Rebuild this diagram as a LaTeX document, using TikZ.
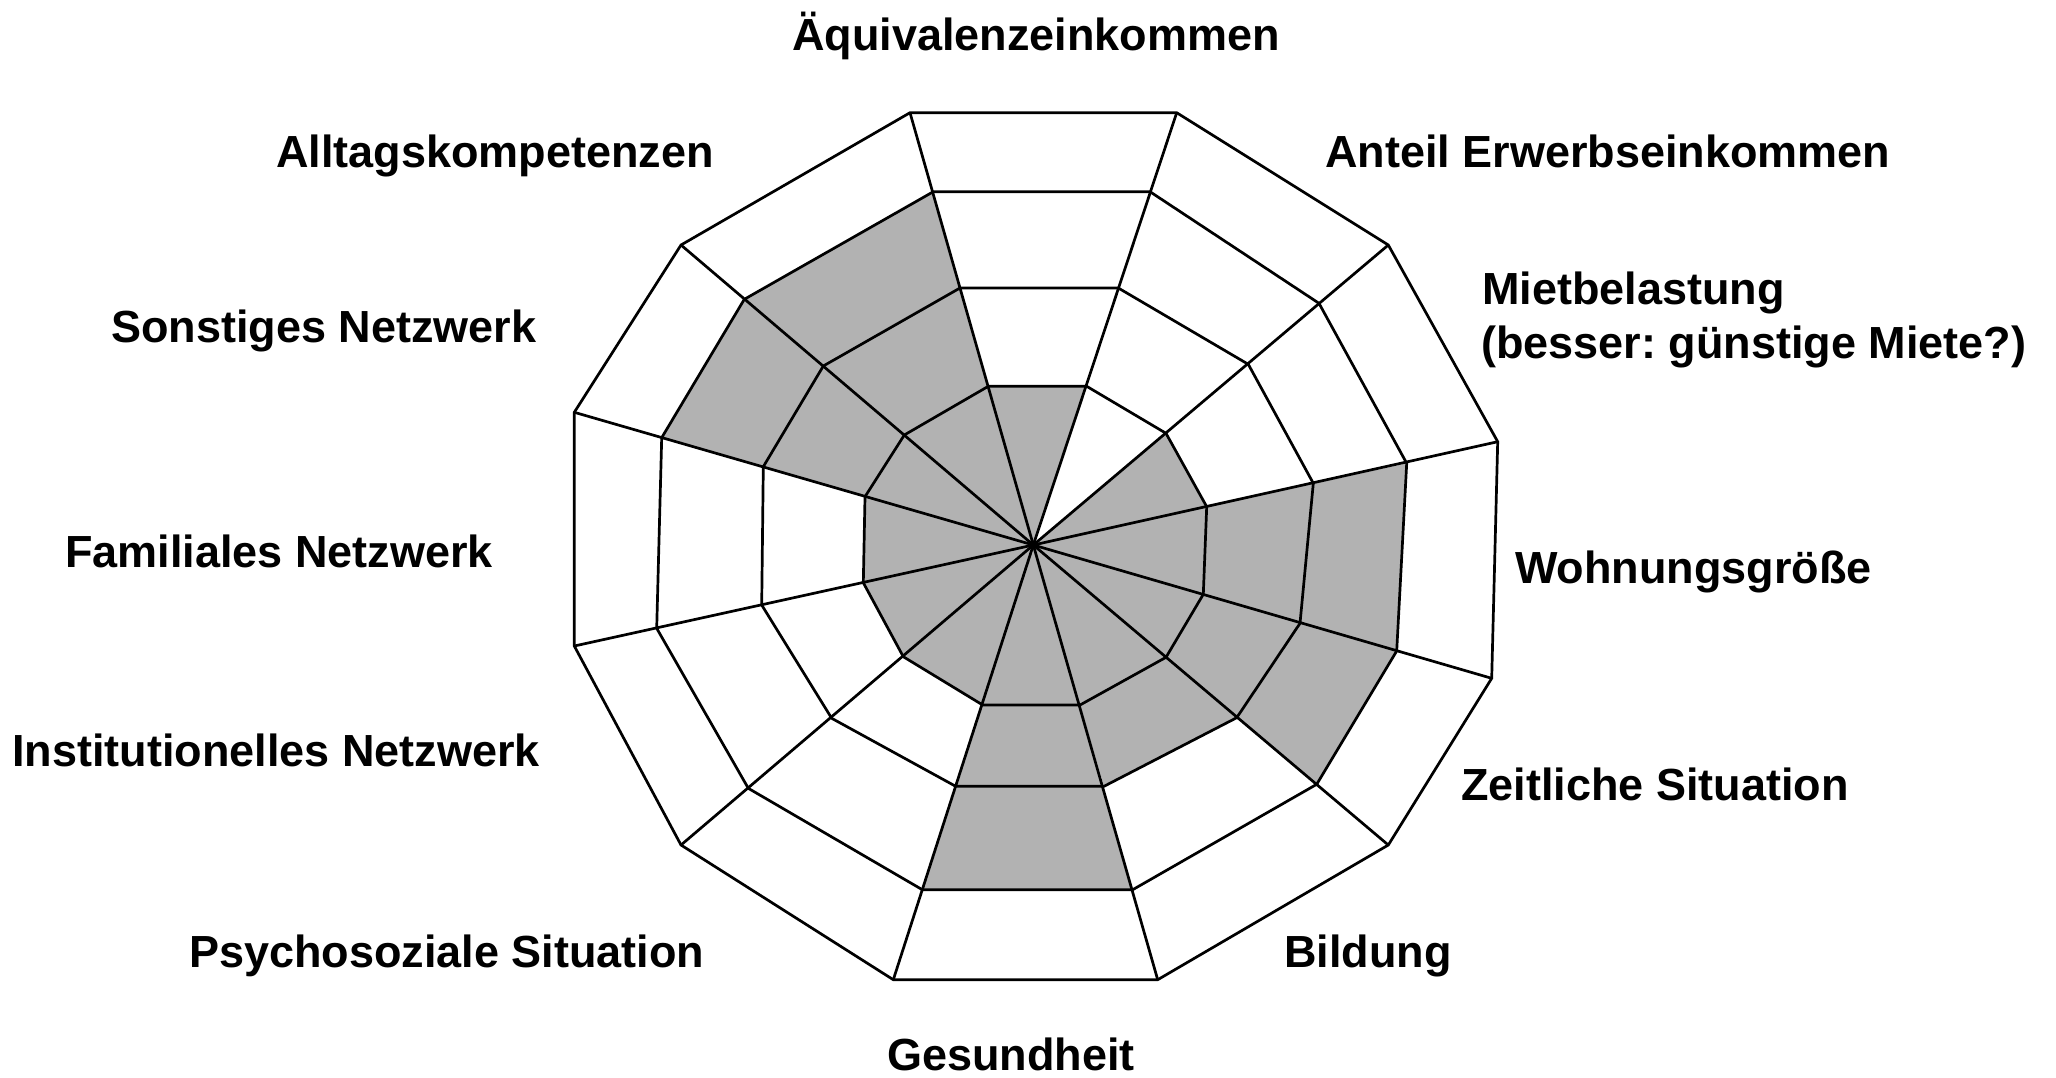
\documentclass[tikz,border=0pt]{standalone}
\usepackage{fontspec}
\setmainfont{Liberation Sans}
\frenchspacing
\begin{document}
\begin{tikzpicture}[x=1pt,y=-1pt,
  grid/.style={line width=2.7pt,line join=miter},
  lab/.style={font=\fontsize{45}{54}\selectfont\bfseries,inner sep=0pt,anchor=base west},
  greyfill/.style={fill=black!30}]
\useasboundingbox (0,0) rectangle (2056,1077);
\coordinate (c) at (1033.3,545);
\foreach \k/\ax/\ay/\bx/\by/\cx/\cy/\dx/\dy in {
  0/988.3/386.3/960/288/933.3/191.7/910/112.7,
  1/1086.7/386.3/1118.3/288/1150/191.7/1176.7/112.7,
  2/1166/433.3/1248.3/364.3/1319/303.3/1388.3/245,
  3/1206.7/506.7/1313.3/483.3/1406.7/463.3/1497.7/441.7,
  4/1203.3/594.3/1300/623.3/1396.7/651/1491.7/678.3,
  5/1166/657.3/1236.7/717.7/1316.7/784.3/1388.3/845,
  6/1080/705/1104/786.3/1132.7/889.7/1157.7/979.7,
  7/982.7/705/955.7/786.3/922.3/889.7/893.3/979.7,
  8/903.3/656.7/831.7/718.3/748.3/788.3/681/845,
  9/863.3/582.7/761.7/605/656.7/628.3/574.3/646,
  10/865/496.7/763.3/466.7/661.7/437.7/574.3/412.3,
  11/904.3/435/823.3/366/744.3/299.3/681/245}{
  \coordinate (p\k-1) at (\ax,\ay);
  \coordinate (p\k-2) at (\bx,\by);
  \coordinate (p\k-3) at (\cx,\cy);
  \coordinate (p\k-4) at (\dx,\dy);
}
% shaded profile
\foreach \k/\n/\L in {0/1/1,2/3/1,3/4/3,4/5/3,5/6/2,6/7/3,7/8/1,8/9/1,9/10/1,10/11/3,11/0/3}
  \fill[greyfill] (c) -- (p\k-\L) -- (p\n-\L) -- cycle;
% rings
\foreach \L in {1,2,3,4}
  \draw[grid] (p0-\L) -- (p1-\L) -- (p2-\L) -- (p3-\L) -- (p4-\L) -- (p5-\L) -- (p6-\L)
    -- (p7-\L) -- (p8-\L) -- (p9-\L) -- (p10-\L) -- (p11-\L) -- cycle;
% spokes
\foreach \k in {0,...,11}
  \draw[grid] (c) -- (p\k-4);
% labels
\node[lab,anchor=base] (l0) at (1036,50) {Äquivalenzeinkommen};
\node[lab] (l1) at (1325,167) {Anteil Erwerbseinkommen};
\node[lab] (l2a) at (1482,304) {Mietbelastung};
\node[lab] (l2b) at (1481,358) {(besser: günstige Miete?)};
\node[lab] (l3) at (1515,583) {Wohnungsgröße};
\node[lab] (l4) at (1461,800) {Zeitliche Situation};
\node[lab] (l5) at (1284,967) {Bildung};
\node[lab,anchor=base] (l6) at (1011,1070) {Gesundheit};
\node[lab] (l7) at (189,967) {Psychosoziale Situation};
\node[lab] (l8) at (12,766) {Institutionelles Netzwerk};
\node[lab] (l9) at (65,567) {Familiales Netzwerk};
\node[lab] (l10) at (111,342) {Sonstiges Netzwerk};
\node[lab] (l11) at (276,167) {Alltagskompetenzen};
\end{tikzpicture}
\end{document}
